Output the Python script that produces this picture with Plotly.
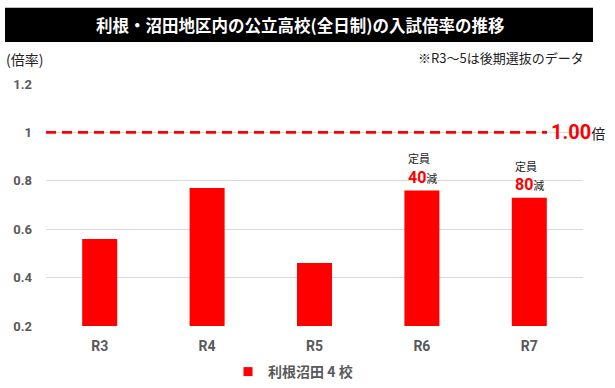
import plotly.graph_objects as go

categories = ["R3", "R4", "R5", "R6", "R7"]
rates = [0.56, 0.77, 0.46, 0.76, 0.73]
series_name = "利根沼田 4 校"
ref_value = 1.0
y_ticks = [0.2, 0.4, 0.6, 0.8, 1.0, 1.2]
y_tick_labels = ["0.2", "0.4", "0.6", "0.8", "1", "1.2"]
cut_notes = {"R6": "40", "R7": "80"}

JP = "Noto Sans CJK JP"
NUM = "Roboto"

fig = go.Figure()
fig.add_trace(go.Bar(
    x=categories, y=rates, name=series_name,
    marker=dict(color="#ff0000", line=dict(width=0)),
    width=0.326, showlegend=False,
))
fig.add_trace(go.Scatter(
    x=[None], y=[None], mode="markers", name=series_name,
    marker=dict(color="#ff0000", symbol="square", size=9),
    showlegend=True,
))
fig.add_trace(go.Scatter(
    x=[-0.5, 4.165], y=[ref_value, ref_value], mode="lines",
    line=dict(color="#ff0000", width=2.7, dash="10px,6px"),
    showlegend=False, hoverinfo="skip", xaxis="x2",
))

annotations = []
annotations.append(dict(xref="paper", yref="paper", x=0.473, y=1.244, text="<b>利根・沼田地区内の公立高校(全日制)の入試倍率の推移</b>",
                        showarrow=False, font=dict(family=JP, size=16.5, color="white"), xanchor="center", yanchor="middle"))
annotations.append(dict(xref="paper", yref="paper", x=-0.078, y=1.105, text="(倍率)",
                        showarrow=False, font=dict(family=JP, size=14, color="#222"), xanchor="left", yanchor="middle"))
annotations.append(dict(xref="paper", yref="paper", x=1.0056, y=1.108, text="※R3～5は後期選抜のデータ",
                        showarrow=False, font=dict(family=JP, size=13, color="#222"), xanchor="right", yanchor="middle"))
annotations.append(dict(xref="paper", yref="y", x=0.937, y=ref_value, text="<b><span style='font-family:Roboto;font-size:20px;color:#ff0000'>1.00</span></b>倍",
                        showarrow=False, font=dict(family=JP, size=14, color="#222"), xanchor="left", yanchor="middle"))
for cat, n in cut_notes.items():
    i = categories.index(cat)
    v = rates[i]
    annotations.append(dict(x=cat, y=v, yref="y", text="定員", showarrow=False, xshift=-16,
                            font=dict(family=JP, size=11, color="#222"), xanchor="left", yanchor="middle", yshift=32))
    annotations.append(dict(x=cat, y=v, yref="y", text=f"<b><span style='font-family:Roboto;font-size:16px;color:#ff0000'>{n}</span></b>減",
                            showarrow=False, font=dict(family=JP, size=11, color="#222"), xanchor="left", yanchor="middle", yshift=13, xshift=-16))

fig.update_layout(
    width=615, height=388,
    margin=dict(l=46, r=32, t=84, b=62, autoexpand=False),
    paper_bgcolor="white", plot_bgcolor="white",
    xaxis=dict(type="category", categoryorder="array", categoryarray=categories,
               showgrid=False, showline=False, ticks="", zeroline=False, automargin=False,
               tickfont=dict(family=NUM, size=14, color="#595959", weight="bold"), ticklabelstandoff=10),
    xaxis2=dict(range=[-0.5, 4.5], overlaying="x", visible=False),
    yaxis=dict(range=[0.2, 1.2], tickvals=y_ticks, ticktext=y_tick_labels, automargin=False,
               showgrid=True, gridcolor="#d9d9d9", gridwidth=1, zeroline=False, showline=False,
               tickfont=dict(family=NUM, size=13, color="#595959", weight="bold"), ticklabelstandoff=13),
    legend=dict(orientation="h", x=0.46, xanchor="center", y=6, yref="container", yanchor="bottom",
                font=dict(family=JP, size=14, color="#595959", weight="bold"), itemwidth=30,
                bgcolor="rgba(0,0,0,0)"),
    shapes=[dict(type="rect", xref="paper", yref="paper", x0=-0.0763, x1=1.0186, y0=1.174, y1=1.3146,
                 fillcolor="black", line=dict(width=0), layer="below")],
    annotations=annotations,
    showlegend=True,
)
fig.write_html("out.html", post_script="document.body.style.margin='0';",
               config={"displayModeBar": False})
